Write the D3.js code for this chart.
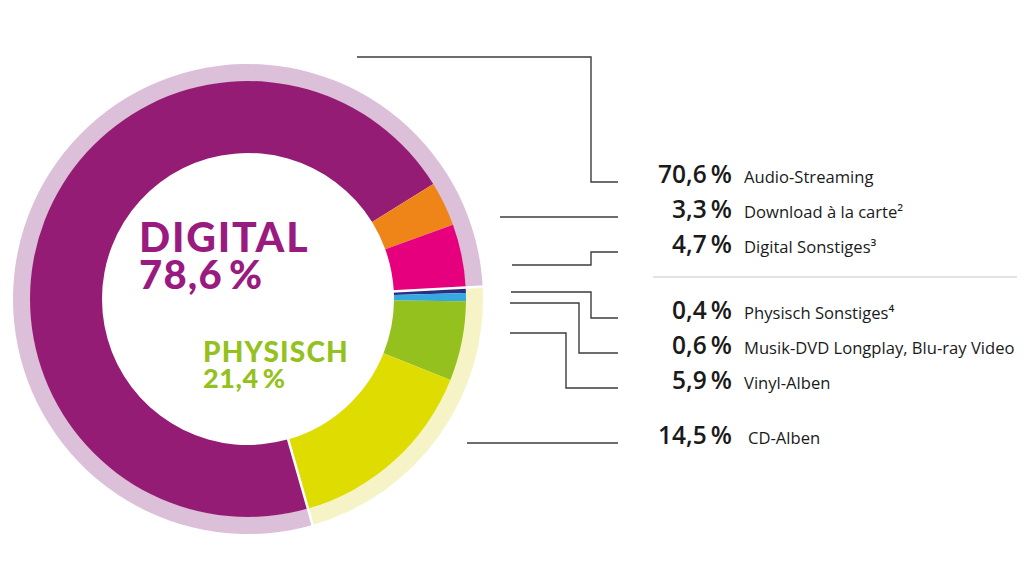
<!DOCTYPE html>
<html>
<head>
<meta charset="utf-8">
<script src="https://cdn.jsdelivr.net/npm/d3@7/dist/d3.min.js"></script>
<style>
  html, body { margin: 0; padding: 0; background: #fff; }
  svg { display: block; }
</style>
</head>
<body>
<svg id="chart" width="1024" height="576"></svg>
<script>
// ---- Data ----
const categories = ["Physisch Sonstiges⁴", "Musik-DVD Longplay, Blu-ray Video", "Vinyl-Alben", "CD-Alben", "Audio-Streaming", "Download à la carte²", "Digital Sonstiges³"];
const values = [0.4, 0.6, 5.9, 14.5, 70.6, 3.3, 4.7];
const segmentGroup = ["PHYSISCH", "PHYSISCH", "PHYSISCH", "PHYSISCH", "DIGITAL", "DIGITAL", "DIGITAL"];
const groupNames = ["PHYSISCH", "DIGITAL"];
const groupValues = [21.4, 78.6];
const labelOrder = ["Audio-Streaming", "Download à la carte²", "Digital Sonstiges³", "Physisch Sonstiges⁴", "Musik-DVD Longplay, Blu-ray Video", "Vinyl-Alben", "CD-Alben"];

// ---- Style / layout ----
const segColors = ["#2b2e83", "#36a9e1", "#95c11f", "#dedc00", "#941c75", "#ef8519", "#e6007e"];
const ringColors = { PHYSISCH: "#f6f4c6", DIGITAL: "#dcbfd9" };
const textColors = { PHYSISCH: "#95c11f", DIGITAL: "#9a1b7f" };
const cx = 248, cy = 299;
const rInner = 146, rMid = 218, rOuter = 235;
const startAngle = 87 * Math.PI / 180;

const locale = d3.formatLocale({ decimal: ",", thousands: ".", grouping: [3], currency: ["", "€"] });
const fmt = v => locale.format(".1f")(v) + "\u2009%";

const svg = d3.select("#chart");
const g = svg.append("g").attr("transform", `translate(${cx},${cy})`);

const pie = d3.pie().sort(null).value(d => d.v).startAngle(startAngle).endAngle(startAngle + 2 * Math.PI);
const segData = categories.map((c, i) => ({ c, v: values[i], grp: segmentGroup[i], color: segColors[i] }));
const grpData = groupNames.map((n, i) => ({ n, v: groupValues[i] }));

const arcIn = d3.arc().innerRadius(rInner).outerRadius(rMid);
const arcOut = d3.arc().innerRadius(rMid - 0.5).outerRadius(rOuter);

// outer group ring
const grpArcs = pie(grpData);
g.selectAll("path.ring").data(grpArcs).join("path")
  .attr("class", "ring")
  .attr("d", arcOut)
  .attr("fill", d => ringColors[d.data.n]);

// inner segments
const segArcs = pie(segData);
g.selectAll("path.seg").data(segArcs).join("path")
  .attr("class", "seg")
  .attr("d", arcIn)
  .attr("fill", d => d.data.color);

// white separators at group boundaries
grpArcs.forEach(a => {
  const ang = a.startAngle - Math.PI / 2;
  g.append("line")
    .attr("x1", Math.cos(ang) * (rInner - 2)).attr("y1", Math.sin(ang) * (rInner - 2))
    .attr("x2", Math.cos(ang) * (rOuter + 2)).attr("y2", Math.sin(ang) * (rOuter + 2))
    .attr("stroke", "#fff").attr("stroke-width", 2.5);
});

// center labels
const centerFont = "Lato, 'Open Sans', sans-serif";
const dig = grpData.find(d => d.n === "DIGITAL");
const phy = grpData.find(d => d.n === "PHYSISCH");
svg.append("text").attr("x", 139).attr("y", 252)
  .attr("font-family", centerFont).attr("font-weight", 900).attr("font-size", 41)
  .attr("letter-spacing", 1.8).attr("fill", textColors.DIGITAL).text(dig.n);
svg.append("text").attr("x", 139).attr("y", 289)
  .attr("font-family", centerFont).attr("font-weight", 900).attr("font-size", 40)
  .attr("letter-spacing", 1.2).attr("fill", textColors.DIGITAL).text(fmt(dig.v));
svg.append("text").attr("x", 203).attr("y", 362)
  .attr("font-family", centerFont).attr("font-weight", 900).attr("font-size", 28)
  .attr("letter-spacing", 1.2).attr("fill", textColors.PHYSISCH).text(phy.n);
svg.append("text").attr("x", 203).attr("y", 388)
  .attr("font-family", centerFont).attr("font-weight", 900).attr("font-size", 27)
  .attr("letter-spacing", 0.6).attr("fill", textColors.PHYSISCH).text(fmt(phy.v));

// ---- Legend with connectors ----
const rowY = { "Audio-Streaming": 182, "Download à la carte²": 217, "Digital Sonstiges³": 252, "Physisch Sonstiges⁴": 318, "Musik-DVD Longplay, Blu-ray Video": 353, "Vinyl-Alben": 388, "CD-Alben": 443 };
const connectors = {
  "Audio-Streaming": { x0: 357, y0: 57, xe: 591 },
  "Download à la carte²": { x0: 500, y0: 217, xe: null },
  "Digital Sonstiges³": { x0: 512, y0: 265, xe: 591 },
  "Physisch Sonstiges⁴": { x0: 511, y0: 292, xe: 591 },
  "Musik-DVD Longplay, Blu-ray Video": { x0: 510, y0: 303, xe: 579 },
  "Vinyl-Alben": { x0: 510, y0: 333, xe: 566 },
  "CD-Alben": { x0: 467, y0: 443, xe: null }
};
const lineEnd = 618;
labelOrder.forEach(name => {
  const i = categories.indexOf(name);
  const y = rowY[name];
  const c = connectors[name];
  const pts = c.xe === null ? [[c.x0, c.y0], [lineEnd, y]]
    : [[c.x0, c.y0], [c.xe, c.y0], [c.xe, y], [lineEnd, y]];
  svg.append("path").attr("d", d3.line()(pts))
    .attr("fill", "none").attr("stroke", "#3c3c3c").attr("stroke-width", 1.4);
  svg.append("text").attr("x", 732).attr("y", y + 1)
    .attr("text-anchor", "end")
    .attr("font-family", "'Open Sans', sans-serif").attr("font-weight", 600).attr("font-size", 24.5)
    .attr("fill", "#1a1a1a").text(fmt(values[i]));
  svg.append("text").attr("x", name === "CD-Alben" ? 748 : 744).attr("y", y + 1)
    .attr("font-family", "'Open Sans', sans-serif").attr("font-weight", 400).attr("font-size", 16.6)
    .attr("fill", "#1a1a1a").text(name);
});
// separator line between digital and physical legend blocks
svg.append("line").attr("x1", 653).attr("x2", 1017).attr("y1", 277).attr("y2", 277)
  .attr("stroke", "#c8c8c8").attr("stroke-width", 1);
</script>
</body>
</html>
